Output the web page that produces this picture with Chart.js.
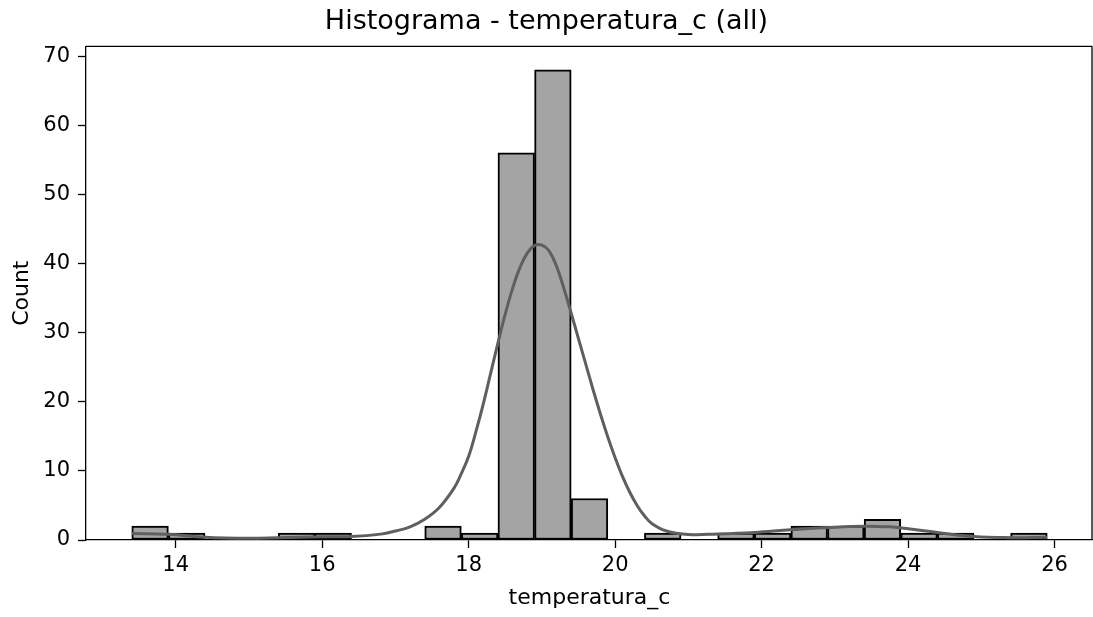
<!DOCTYPE html>
<html>
<head>
<meta charset="utf-8">
<script src="https://cdn.jsdelivr.net/npm/chart.js@4"></script>
<style>
  body { margin: 0; background: #fff; }
  #wrap { width: 1093px; height: 617px; }
</style>
</head>
<body>
<div id="wrap"><canvas id="histChart"></canvas></div>
<script>
// histogram bins (width 0.5, from 13.4 to 25.9)
const binCenters = [13.65, 14.15, 14.65, 15.15, 15.65, 16.15, 16.65, 17.15, 17.65, 18.15,
                    18.65, 19.15, 19.65, 20.15, 20.65, 21.15, 21.65, 22.15, 22.65, 23.15,
                    23.65, 24.15, 24.65, 25.15, 25.65];
const binCounts = [2, 1, 0, 0, 1, 1, 0, 0, 2, 1,
                   56, 68, 6, 0, 1, 0, 1, 1, 2, 2,
                   3, 1, 1, 0, 1];

// kde curve
const kdeX = [13.4, 13.9, 14.4, 15.0, 15.4, 16.0, 16.4, 16.8, 17.0, 17.2,
              17.4, 17.6, 17.8, 17.9, 18.0, 18.1, 18.2, 18.3, 18.4, 18.5,
              18.6, 18.7, 18.8, 18.9, 19.0, 19.1, 19.2, 19.3, 19.4, 19.5,
              19.6, 19.7, 19.8, 19.9, 20.0, 20.1, 20.2, 20.3, 20.4, 20.5,
              20.7, 21.0, 21.4, 21.9, 22.4, 22.9, 23.4, 23.75, 23.95, 24.4,
              24.9, 25.4, 25.9];
const kdeY = [0.95, 0.82, 0.4, 0.24, 0.33, 0.48, 0.5, 0.85, 1.3, 1.9,
              3.0, 4.7, 7.5, 9.6, 12.1, 15.7, 19.7, 24.1, 28.5, 32.7,
              36.4, 39.4, 41.5, 42.6, 42.65, 41.8, 39.6, 36.4, 32.8, 29.1,
              25.4, 21.7, 18.2, 14.9, 11.9, 9.2, 6.9, 5.0, 3.5, 2.4,
              1.3, 0.8, 0.87, 1.1, 1.5, 1.8, 2.0, 1.9, 1.7, 1.1,
              0.5, 0.34, 0.39];

const xTickValues = [14, 16, 18, 20, 22, 24, 26];
const yTickValues = [0, 10, 20, 30, 40, 50, 60, 70];

const FONT = "'DejaVu Sans', sans-serif";

const framePlugin = {
    id: "frame",
    afterDraw(chart) {
        const { ctx, chartArea: a } = chart;
        ctx.save();
        ctx.strokeStyle = "#000";
        ctx.lineWidth = 1.3;
        ctx.beginPath();
        ctx.moveTo(a.left, a.top);
        ctx.lineTo(a.right - 1, a.top);
        ctx.lineTo(a.right - 1, a.bottom);
        ctx.stroke();
        ctx.restore();
    }
};

new Chart("histChart", {
    type: "bar",
    data: {
        datasets: [{
            type: "line",
            data: kdeX.map((x, i) => ({ x: x, y: kdeY[i] })),
            borderColor: "#5f5f5f",
            borderWidth: 3,
            pointRadius: 0,
            tension: 0.4,
            order: 0
        }, {
            type: "bar",
            data: binCenters.map((x, i) => ({ x: x, y: binCounts[i] })),
            backgroundColor: "#a4a4a4",
            borderColor: "#000",
            borderWidth: 2,
            borderSkipped: false,
            barPercentage: 1,
            categoryPercentage: 1,
            order: 1
        }]
    },
    options: {
        responsive: true,
        maintainAspectRatio: false,
        animation: false,
        layout: { padding: { left: 0, right: 0, top: 0, bottom: 0 } },
        scales: {
            x: {
                type: "linear",
                offset: false,
                min: 12.775,
                max: 26.525,
                afterFit: (s) => { s.height = 77; },
                afterBuildTicks: (s) => { s.ticks = xTickValues.map(v => ({ value: v })); },
                grid: { offset: false, drawOnChartArea: false, tickLength: 8, tickColor: "#000", tickWidth: 1.3 },
                border: { color: "#000", width: 1.3 },
                ticks: { color: "#000", font: { family: FONT, size: 21 }, padding: 5, maxRotation: 0 },
                title: { display: true, text: "temperatura_c", color: "#000",
                         font: { family: FONT, size: 22 }, padding: { top: 6, bottom: 6 } }
            },
            y: {
                min: 0,
                max: 71.4,
                afterFit: (s) => { s.width = 86; },
                afterBuildTicks: (s) => { s.ticks = yTickValues.map(v => ({ value: v })); },
                grid: { drawOnChartArea: false, tickLength: 8, tickColor: "#000", tickWidth: 1.3 },
                border: { color: "#000", width: 1.3 },
                ticks: { color: "#000", font: { family: FONT, size: 21 }, padding: 8 },
                title: { display: true, text: "Count", color: "#000",
                         font: { family: FONT, size: 22 }, padding: { top: 9, bottom: 9 } }
            }
        },
        plugins: {
            legend: { display: false },
            tooltip: { enabled: false },
            title: {
                display: true,
                text: "Histograma - temperatura_c (all)",
                color: "#000",
                font: { family: FONT, size: 27, weight: "normal" },
                padding: { top: 6, bottom: 8 }
            }
        }
    },
    plugins: [framePlugin]
});
</script>
</body>
</html>
